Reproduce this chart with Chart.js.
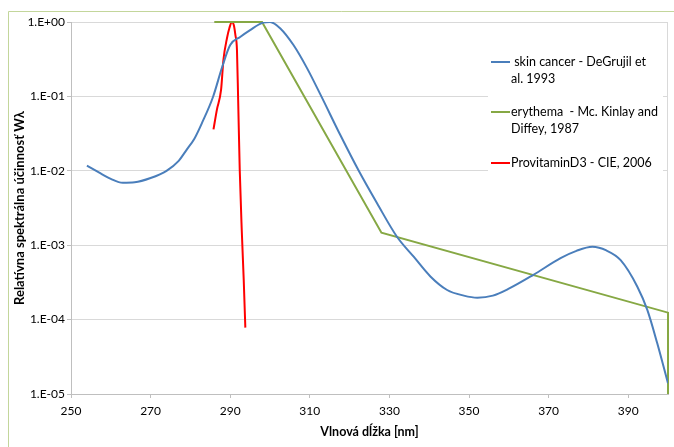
<!DOCTYPE html>
<html>
<head>
<meta charset="utf-8">
<script src="https://cdn.jsdelivr.net/npm/chart.js@4"></script>
<style>
  html, body { margin: 0; padding: 0; background: #fff; }
  #wrap { position: relative; width: 674px; height: 447px; }
</style>
</head>
<body>
<div id="wrap"><canvas id="chart" width="674" height="447"></canvas></div>
<script>
// Values (wavelength in nm, relative effectiveness)
const skinCancerX = [254, 257, 260, 263, 266, 270, 274, 277, 279, 281, 283, 285.7, 288, 290, 292.5, 295, 298.3, 300, 302.6, 305.9, 309.3, 312.9, 317.7, 322.3, 326.9, 331.9, 336.1, 340.3, 344.5, 348.7, 352.1, 356, 360, 366.2, 373, 377, 381, 384.5, 388.1, 392.3, 394.8, 397.3, 400];
const skinCancerY = [0.0117, 0.0095, 0.0078, 0.0069, 0.0070, 0.0080, 0.0100, 0.0135, 0.019, 0.027, 0.045, 0.099, 0.25, 0.49, 0.63, 0.78, 0.98, 1.0, 0.82, 0.49, 0.24, 0.1, 0.030, 0.01, 0.00366, 0.0013, 0.0007, 0.00038, 0.00025, 0.00021, 0.000197, 0.00021, 0.00026, 0.0004, 0.00067, 0.00084, 0.00095, 0.00085, 0.00063, 0.000277, 0.000135, 0.000048, 0.0000139];

const erythemaX = [286, 298, 328, 400, 400];
const erythemaY = [1.0, 1.0, 0.00147, 0.000124, 0.00001];

const vitaminX = [285.8, 286.65, 287.7, 288.3, 289.2, 289.8, 290.4, 290.9, 291.3, 291.7, 292.0, 292.4, 292.9, 293.4, 293.8];
const vitaminY = [0.036, 0.066, 0.122, 0.31, 0.61, 0.83, 1.0, 0.91, 0.67, 0.42, 0.089, 0.0102, 0.0016, 0.00034, 0.000078];

const seriesNames = [
    [' skin cancer - DeGrujil et', 'al. 1993'],
    ['erythema  - Mc. Kinlay and', 'Diffey, 1987'],
    ['ProvitaminD3 - CIE, 2006']
];
const seriesColors = ['#4A7EBB', '#86A844', '#FF0000'];

const xTicks = [250, 270, 290, 310, 330, 350, 370, 390];
const yTicks = [0.00001, 0.0001, 0.001, 0.01, 0.1, 1];
const yTickLabels = ['1.E-05', '1.E-04', '1.E-03', '1.E-02', '1.E-01', '1.E+00'];

const FONT = 'Lato, "Open Sans", sans-serif';

function toPoints(xs, ys) {
    return xs.map((x, i) => ({ x: x, y: ys[i] }));
}

// outer frame of the chart (light green)
const framePlugin = {
    id: 'frame',
    beforeDraw(chart) {
        const ctx = chart.ctx;
        ctx.save();
        ctx.strokeStyle = '#C3D69B';
        ctx.lineWidth = 1;
        ctx.beginPath();
        ctx.moveTo(8.5, 447);
        ctx.lineTo(8.5, 11.5);
        ctx.lineTo(674, 11.5);
        ctx.stroke();
        // right border of plot area
        const a = chart.chartArea;
        ctx.strokeStyle = '#D9D9D9';
        ctx.beginPath();
        ctx.moveTo(Math.round(a.right) - 0.5, a.top);
        ctx.lineTo(Math.round(a.right) - 0.5, a.bottom);
        ctx.stroke();
        ctx.restore();
    }
};

// legend drawn inside plot area with white box over the gridlines
const legendPlugin = {
    id: 'insideLegend',
    beforeDatasetsDraw(chart) {
        const ctx = chart.ctx;
        ctx.save();
        ctx.fillStyle = '#fff';
        ctx.fillRect(488, 40, 175, 140);
        ctx.font = '12.5px ' + FONT;
        ctx.textBaseline = 'middle';
        const rows = [62, 112, 163];
        seriesNames.forEach((lines, i) => {
            const y = rows[i];
            ctx.strokeStyle = seriesColors[i];
            ctx.lineWidth = 2;
            ctx.beginPath();
            ctx.moveTo(491, y);
            ctx.lineTo(510, y);
            ctx.stroke();
            ctx.fillStyle = '#000';
            lines.forEach((t, j) => {
                ctx.fillText(t, 511, y + j * 17);
            });
        });
        ctx.restore();
    }
};

const ctx = document.getElementById('chart').getContext('2d');
const actionChart = new Chart(ctx, {
    type: 'line',
    data: {
        datasets: [
            { label: 'skin cancer', data: toPoints(skinCancerX, skinCancerY), borderColor: seriesColors[0], cubicInterpolationMode: 'monotone' },
            { label: 'erythema', data: toPoints(erythemaX, erythemaY), borderColor: seriesColors[1], tension: 0, clip: 3 },
            { label: 'ProvitaminD3', data: toPoints(vitaminX, vitaminY), borderColor: seriesColors[2], cubicInterpolationMode: 'monotone' }
        ]
    },
    options: {
        responsive: false,
        animation: false,
        layout: { padding: { top: 22, right: 6, left: 0, bottom: 0 } },
        elements: {
            point: { radius: 0 },
            line: { borderWidth: 2, fill: false }
        },
        plugins: {
            legend: { display: false },
            tooltip: { enabled: false }
        },
        scales: {
            x: {
                type: 'linear',
                min: 250,
                max: 400,
                afterBuildTicks(scale) {
                    scale.ticks = xTicks.map(v => ({ value: v }));
                },
                afterFit(scale) { scale.height = 53; },
                grid: { drawOnChartArea: false, color: '#BFBFBF', tickLength: 4 },
                border: { color: '#BFBFBF' },
                ticks: { color: '#000', padding: 6, font: { family: FONT, size: 12 }, maxRotation: 0 },
                title: {
                    display: true,
                    text: 'Vlnová dĺžka [nm]',
                    color: '#000',
                    font: { family: FONT, size: 12.5, weight: 'bold' },
                    padding: { top: 0, bottom: 8 }
                }
            },
            y: {
                type: 'logarithmic',
                min: 0.00001,
                max: 1,
                afterBuildTicks(scale) {
                    scale.ticks = yTicks.map(v => ({ value: v }));
                },
                afterFit(scale) { scale.width = 71; },
                grid: { color: '#D9D9D9', tickLength: 4, tickColor: '#BFBFBF' },
                border: { color: '#BFBFBF' },
                ticks: {
                    color: '#000',
                    padding: 2,
                    font: { family: FONT, size: 12 },
                    callback: function (value) {
                        const i = yTicks.findIndex(v => Math.abs(Math.log10(v) - Math.log10(value)) < 1e-6);
                        return i >= 0 ? yTickLabels[i] : '';
                    }
                },
                title: {
                    display: true,
                    text: 'Relatívna spektrálna účinnosť Wλ',
                    color: '#000',
                    font: { family: FONT, size: 13, weight: 'bold' },
                    padding: { top: 12, bottom: 0 }
                }
            }
        }
    },
    plugins: [framePlugin, legendPlugin]
});
</script>
</body>
</html>
